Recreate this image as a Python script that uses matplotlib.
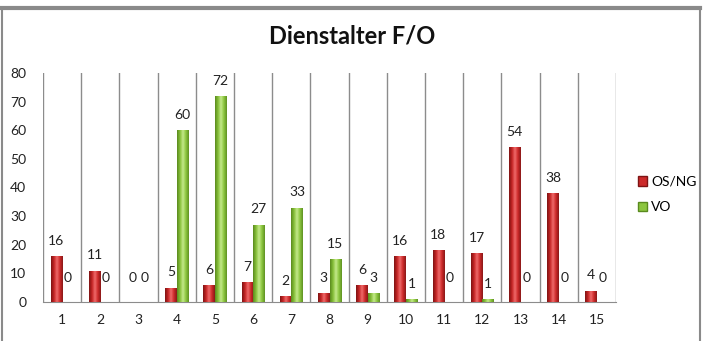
import matplotlib
matplotlib.use("Agg")
import matplotlib.pyplot as plt
import numpy as np
from matplotlib.colors import LinearSegmentedColormap
from matplotlib.patches import Patch
from matplotlib.lines import Line2D

plt.rcParams["font.family"] = ["Lato", "DejaVu Sans"]

categories = [str(i) for i in range(1, 16)]
os_ng = [16, 11, 0, 5, 6, 7, 2, 3, 6, 16, 18, 17, 54, 38, 4]
vo = [0, 0, 0, 60, 72, 27, 33, 15, 3, 1, 0, 1, 0, 0, 0]

RED = "#cc2a2a"
GREEN = "#8cc63f"
red_cmap = LinearSegmentedColormap.from_list(
    "red", ["#7e1414", "#c42424", "#ef6a6a", "#cc2a2a", "#8a1818"])
green_cmap = LinearSegmentedColormap.from_list(
    "green", ["#5a8a1e", "#86bf38", "#c4e98a", "#8cc63f", "#5f9222"])

fig = plt.figure(figsize=(7.04, 3.41), dpi=100)
ax = fig.add_axes([43 / 704, 1 - 302 / 341, (616 - 43) / 704, (302 - 73) / 341])

x = np.arange(len(categories))
w = 0.3
b1 = ax.bar(x - w / 2, os_ng, w, color=RED, edgecolor="none", zorder=3)
b2 = ax.bar(x + w / 2, vo, w, color=GREEN, edgecolor="none", zorder=3)

# cylinder-ish shading: horizontal gradient clipped to each bar
grad = np.linspace(0, 1, 64).reshape(1, -1)
for bars, cmap in [(b1, red_cmap), (b2, green_cmap)]:
    for r in bars:
        if r.get_height() <= 0:
            continue
        x0, y0 = r.get_x(), r.get_y()
        im = ax.imshow(grad, cmap=cmap, aspect="auto", zorder=4,
                       extent=[x0, x0 + r.get_width(), y0, y0 + r.get_height()])
        im.set_clip_path(r)

# value labels
for bars, vals in [(b1, os_ng), (b2, vo)]:
    for r, v in zip(bars, vals):
        off = 11 if v > 0 else 17
        ax.annotate(str(v), (r.get_x() + r.get_width() / 2, v),
                    xytext=(0, off), textcoords="offset points",
                    ha="center", va="center", fontsize=10, color="#222222")

# category separators
for b in np.arange(len(categories) + 1) - 0.5:
    ax.plot([b, b], [0, 80], color="#8c8c8c", lw=1, zorder=1)

ax.set_xlim(-0.5, len(categories) - 0.5)
ax.set_ylim(0, 80)
ax.set_yticks(range(0, 81, 10))
ax.set_xticks(x)
ax.set_xticklabels(categories)
ax.tick_params(axis="both", length=0, labelsize=10, colors="#222222")
ax.tick_params(axis="y", pad=12)
ax.tick_params(axis="x", pad=9)
for s in ["top", "right", "left"]:
    ax.spines[s].set_visible(False)
ax.spines["bottom"].set_color("#8c8c8c")

fig.text(352 / 704, 1 - 36 / 341, "Dienstalter F/O", ha="center", va="center",
         fontsize=17, fontweight="bold", color="#111111")

handles = [Patch(facecolor=RED, edgecolor="#7e1414", label="OS/NG"),
           Patch(facecolor=GREEN, edgecolor="#5a8a1e", label="VO")]
fig.legend(handles=handles, loc="upper left", bbox_to_anchor=(632 / 704, 1 - 170 / 341),
           frameon=False, fontsize=10, handlelength=0.7, handleheight=0.7,
           handletextpad=0.3, labelspacing=1.0, borderaxespad=0)

# outer frame (left, top, right)
fig.add_artist(Line2D([2 / 704, 2 / 704], [0, 1 - 8 / 341], transform=fig.transFigure,
                      color="#8a8a8a", lw=1.5))
fig.add_artist(Line2D([700 / 704, 700 / 704], [0, 1 - 8 / 341], transform=fig.transFigure,
                      color="#8a8a8a", lw=1.5))
fig.add_artist(Line2D([2 / 704, 700 / 704], [1 - 8 / 341, 1 - 8 / 341], transform=fig.transFigure,
                      color="#8a8a8a", lw=3))

fig.savefig("out.png", dpi=100)
